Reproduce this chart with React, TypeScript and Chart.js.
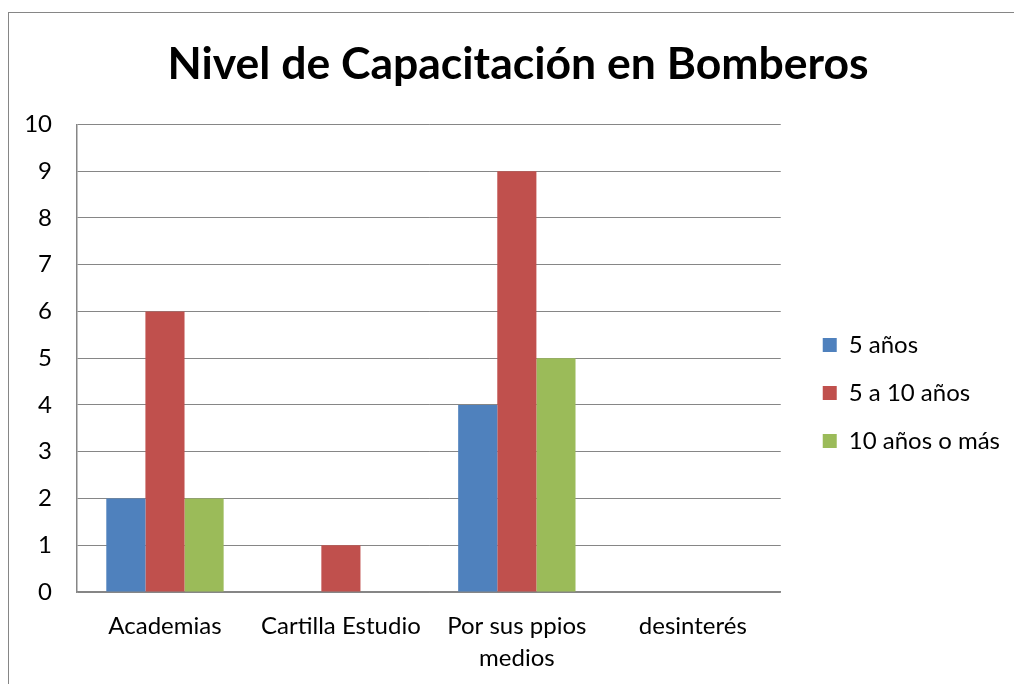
import React, { useEffect, useRef } from "react";
import { Chart, registerables } from "chart.js";

Chart.register(...registerables);

const chartTitle = "Nivel de Capacitación en Bomberos";
const categories: (string | string[])[] = ["Academias", "Cartilla Estudio", ["Por sus ppios", "medios"], "desinterés"];
const seriesNames = ["5 años", "5 a 10 años", "10 años o más"];
const values5 = [2, 0, 4, 0];
const values5to10 = [6, 1, 9, 0];
const values10plus = [2, 0, 5, 0];
const seriesColors = ["#4F81BD", "#C0504D", "#9BBB59"];

const FONT = "Lato, 'Noto Sans', sans-serif";

export default function App() {
  const ref = useRef<HTMLCanvasElement | null>(null);
  useEffect(() => {
    if (!ref.current) return;
    const chart = new Chart(ref.current, {
      type: "bar",
      data: {
        labels: categories,
        datasets: [
          { label: seriesNames[0], data: values5, backgroundColor: seriesColors[0] },
          { label: seriesNames[1], data: values5to10, backgroundColor: seriesColors[1] },
          { label: seriesNames[2], data: values10plus, backgroundColor: seriesColors[2] },
        ],
      },
      options: {
        responsive: false,
        animation: false,
        devicePixelRatio: 1,
        layout: { padding: { left: 0, right: 16, top: 0, bottom: 0 } },
        datasets: { bar: { barPercentage: 1, categoryPercentage: 0.667, borderWidth: 0 } },
        plugins: {
          title: {
            display: true,
            text: chartTitle,
            color: "#000",
            font: { family: FONT, size: 44.5, weight: "bold", lineHeight: 1.2 },
            padding: { top: 26, bottom: 33 },
          },
          legend: {
            position: "right",
            maxWidth: 400,
            title: { display: true, text: "", font: { size: 10, lineHeight: 1 }, padding: { top: 80, bottom: 0 } },
            labels: {
              boxWidth: 14,
              boxHeight: 14,
              padding: 24,
              color: "#000",
              font: { family: FONT, size: 24 },
            },
          },
          tooltip: { enabled: false },
        },
        scales: {
          x: {
            grid: { display: false },
            border: { display: true, color: "#868686", width: 1.5 },
            ticks: { color: "#000", font: { family: FONT, size: 24, lineHeight: 1.3 }, padding: 11, maxRotation: 0, autoSkip: false },
            afterFit: (s: any) => { s.height = 92; },
          },
          y: {
            min: 0,
            max: 10,
            ticks: { stepSize: 1, color: "#000", font: { family: FONT, size: 24 }, padding: 25 },
            grid: { color: "#868686", lineWidth: 1, drawTicks: false },
            border: { display: true, color: "#868686", width: 1.5 },
            afterFit: (s: any) => { s.width = 51; },
          },
          gap: {
            type: "linear",
            position: "right",
            display: true,
            ticks: { display: false },
            grid: { display: false },
            border: { display: false },
            afterFit: (s: any) => { s.width = 18; },
          },
        },
      },
    });
    return () => chart.destroy();
  }, []);

  return (
    <div style={{ position: "fixed", left: 0, top: 0, width: 1014, height: 684, overflow: "hidden", background: "#fff" }}>
      <div style={{ position: "absolute", left: 8, top: 12, width: 1100, height: 800, borderLeft: "1.5px solid #868686", borderTop: "1.5px solid #868686" }} />
      <canvas ref={ref} width={1000} height={672} style={{ position: "absolute", left: 26, top: 12, width: 1000, height: 672 }} />
    </div>
  );
}
